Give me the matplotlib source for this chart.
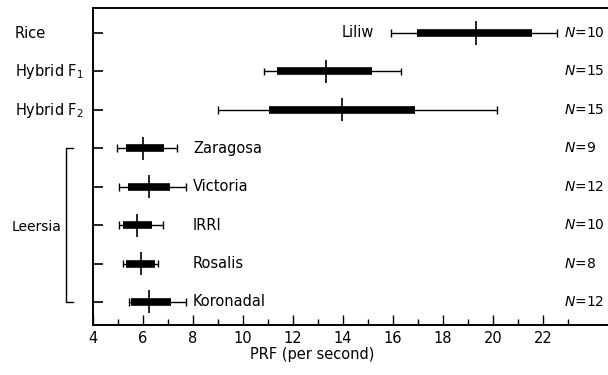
import numpy as np
import matplotlib
matplotlib.use("Agg")
import matplotlib.pyplot as plt

# PRF ranges per strain (whisker low, box low, median, box high, whisker high)
rows = ["Rice", "Hybrid F$_{\\mathregular{1}}$", "Hybrid F$_{\\mathregular{2}}$",
        "", "", "", "", ""]
inner_names = ["Liliw", "", "", "Zaragosa", "Victoria", "IRRI", "Rosalis", "Koronadal"]
n_counts = [10, 15, 15, 9, 12, 10, 8, 12]
wlo = [15.9, 10.85, 9.0, 4.95, 5.04, 5.04, 5.2, 5.44]
blo = [16.96, 11.34, 11.04, 5.32, 5.4, 5.2, 5.32, 5.5]
med = [19.3, 13.32, 13.96, 6.0, 6.24, 5.76, 5.92, 6.24]
bhi = [21.56, 15.16, 16.88, 6.84, 7.08, 6.36, 6.48, 7.12]
whi = [22.56, 16.32, 20.16, 7.35, 7.72, 6.8, 6.6, 7.72]
xticks = [4, 6, 8, 10, 12, 14, 16, 18, 20, 22]

plt.rcParams['font.family'] = ['DejaVu Sans']
fig = plt.figure(figsize=(6.08, 3.75), dpi=100)
ax = fig.add_axes([93 / 608, 50 / 375, 515 / 608, 317 / 375])

y = np.arange(len(rows))
ax.hlines(y, wlo, whi, color='black', lw=1)
ax.hlines(y, blo, bhi, color='black', lw=5.5)
ax.vlines(med, y - 0.3, y + 0.3, color='black', lw=1.2)
ax.vlines(wlo, y - 0.1, y + 0.1, color='black', lw=1)
ax.vlines(whi, y - 0.1, y + 0.1, color='black', lw=1)

ax.set_xlim(4, 24.6)
ax.set_ylim(7.6, -0.65)
ax.set_yticks(y)
ax.set_yticklabels([])
ax.set_xticks(xticks)
ax.set_xticks(np.arange(5, 24, 2), minor=True)
ax.tick_params(axis='y', direction='in', length=7, width=1.2)
ax.tick_params(axis='x', which='major', direction='in', length=7, width=1, labelsize=10.5, pad=4)
ax.tick_params(axis='x', which='minor', direction='in', length=4, width=1)
ax.spines['right'].set_visible(False)
for s in ['left', 'bottom', 'top']:
    ax.spines[s].set_linewidth(1.4)

for i, lab in enumerate(rows):
    if lab:
        fig.text(15 / 608, 1 - (33 + i * 38.5) / 375, lab, fontsize=10.5, va='center', ha='left')

ax.text(15.25, 0, "Liliw", fontsize=10.5, ha='right', va='center')
for i in range(3, 8):
    ax.text(8.0, i, inner_names[i], fontsize=10.5, ha='left', va='center')

for i, n in enumerate(n_counts):
    ax.text(22.85, i, f"$\\mathit{{N}}$={n}", fontsize=10, ha='left', va='center')

# Leersia bracket
bx0, bx1 = -27 / 515, -20 / 515
ax.plot([bx1, bx0, bx0, bx1], [3, 3, 7, 7], color='black', lw=1, clip_on=False,
        transform=ax.get_yaxis_transform())
fig.text(12 / 608, 1 - 227 / 375, "Leersia", fontsize=10, va='center', ha='left')

fig.text(312 / 608, 1 - 355 / 375, "PRF (per second)", fontsize=10.5, ha='center', va='center')

fig.savefig("out.png", dpi=100)
